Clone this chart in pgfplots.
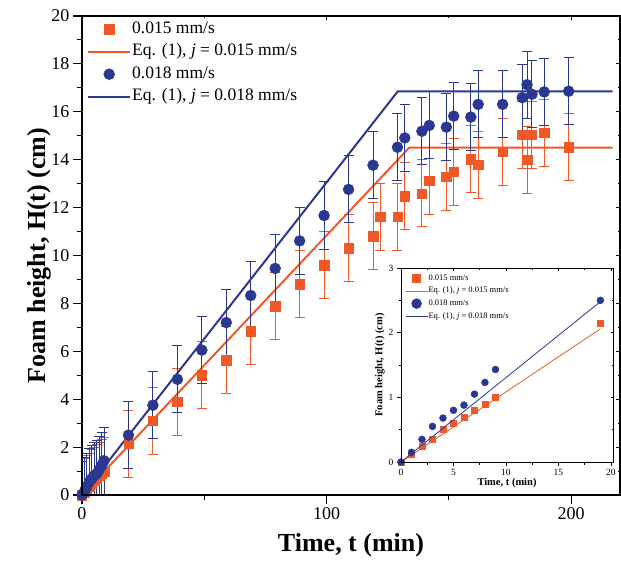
\documentclass[border=0pt]{standalone}
\usepackage{fontspec}
\setmainfont{Liberation Serif}
\usepackage{pgfplots}
\usepackage{pgfplotstable}
\pgfplotsset{compat=1.18}

\definecolor{fred}{RGB}{240,88,40}
\definecolor{fblue}{RGB}{42,56,146}

% t (min), H (cm), error (cm)
\pgfplotstableread{
t h e
0 0 1.4
1 0.12 1.4
2 0.25 1.4
3 0.35 1.4
4 0.50 1.4
5 0.60 1.4
6 0.70 1.4
7 0.80 1.4
8 0.90 1.4
9 1.00 1.4
19 2.13 1.4
29 3.10 1.4
39 3.90 1.4
49 5.00 1.4
59 5.63 1.4
69 6.84 1.4
79 7.88 1.4
89 8.80 1.4
99 9.59 1.4
109 10.30 1.4
119 10.80 1.4
122 11.61 1.4
129 11.61 1.4
132 12.48 1.4
139 12.59 1.4
142 13.12 1.4
149 13.29 1.4
152 13.49 1.4
159 14.02 1.4
162 13.78 1.4
172 14.33 1.4
180 15.05 1.4
182 14.00 1.4
184 15.05 1.4
189 15.12 1.4
199 14.52 1.4
}\redmain

\pgfplotstableread{
t h e
0 0 1.4
1 0.15 1.4
2 0.35 1.4
3 0.55 1.4
4 0.68 1.4
5 0.80 1.4
6 0.88 1.4
7 1.05 1.4
8 1.23 1.4
9 1.43 1.4
19 2.50 1.4
29 3.75 1.4
39 4.83 1.4
49 6.05 1.4
59 7.20 1.4
69 8.33 1.4
79 9.46 1.4
89 10.61 1.4
99 11.67 1.4
109 12.76 1.4
119 13.77 1.4
129 14.52 1.4
132 14.91 1.4
139 15.19 1.4
142 15.43 1.4
149 15.36 1.4
152 15.82 1.4
159 15.78 1.4
162 16.31 1.4
172 16.31 1.4
180 16.59 1.4
182 17.13 1.4
184 16.73 1.4
189 16.83 1.4
199 16.86 1.4
}\bluemain

\pgfplotstableread{
t h
0 0
1 0.12
2 0.25
3 0.35
4 0.50
5 0.60
6 0.70
7 0.80
8 0.90
9 1.00
19 2.15
}\redinset

\pgfplotstableread{
t h
0 0
1 0.15
2 0.35
3 0.55
4 0.68
5 0.80
6 0.88
7 1.05
8 1.23
9 1.43
19 2.50
}\blueinset

\begin{document}
\begin{tikzpicture}
\begin{axis}[
    name=main,
    at={(0pt,0pt)}, anchor=south west,
    scale only axis,
    width=538pt, height=479pt,
    xmin=0, xmax=220,
    ymin=0, ymax=20,
    xtick={0,100,200},
    minor x tick num=1,
    ytick={0,2,...,20},
    minor y tick num=1,
    xtick pos=left, ytick pos=left,
    tick align=outside,
    major tick length=9pt, minor tick length=5pt,
    every tick/.style={black, line width=1.1pt},
    axis line style={line width=1.2pt},
    /pgf/number format/assume math mode=true,
    ticklabel style={font=\fontsize{18}{18}\selectfont},
    xlabel={\textbf{Time, t (min)}},
    ylabel={\textbf{Foam height, H(t) (cm)}},
    label style={font=\fontsize{26}{26}\selectfont},
    x label style={at={(axis description cs:0.5,-0.104)}, anchor=center},
    y label style={at={(axis description cs:-0.08,0.5)}, anchor=center},
    legend image code/.code={\draw[mark repeat=2,mark phase=2] plot coordinates {(0pt,0pt) (21pt,0pt) (42pt,0pt)};},
    legend cell align=left,
    legend style={at={(axis description cs:0,1)}, anchor=north west,
        xshift=2pt, yshift=-2pt,
        draw=none, fill=none,
        font=\fontsize{17.5}{21}\selectfont,
        row sep=4.5pt,
        nodes={text height=12pt, text depth=4pt, inner sep=1pt}},
]
\addplot[only marks, mark=square*, color=fred, mark size=4.7pt,
    error bars/.cd, y dir=both, y explicit,
    error bar style={line width=1pt, fred},
    error mark options={rotate=90, mark size=5pt, line width=1pt, fred}]
    table[x=t, y=h, y error=e] {\redmain};
\addlegendentry{0.015 mm/s}
\addplot[fred, line width=2pt, no marks] coordinates {(0,0) (133.8,14.5) (217,14.5)};
\addlegendentry{Eq. (1), \textit{j} = 0.015 mm/s}
\addplot[only marks, mark=*, color=fblue, mark size=5.5pt,
    error bars/.cd, y dir=both, y explicit,
    error bar style={line width=1pt, fblue},
    error mark options={rotate=90, mark size=5pt, line width=1pt, fblue}]
    table[x=t, y=h, y error=e] {\bluemain};
\addlegendentry{0.018 mm/s}
\addplot[fblue, line width=2pt, no marks] coordinates {(0,0) (129.1,16.85) (217,16.85)};
\addlegendentry{Eq. (1), \textit{j} = 0.018 mm/s}
\end{axis}
% short inward ticks on top and right
\begin{axis}[
    at={(0pt,0pt)}, anchor=south west,
    scale only axis,
    width=538pt, height=479pt,
    xmin=0, xmax=220, ymin=0, ymax=20,
    xtick={0,100,200}, minor x tick num=1,
    ytick={0,2,...,20}, minor y tick num=1,
    xtick pos=right, ytick pos=right,
    tick align=inside,
    major tick length=4pt, minor tick length=2.5pt,
    every tick/.style={black, line width=1pt},
    xticklabels={}, yticklabels={},
    axis line style={line width=1.2pt},
]
\end{axis}

\begin{axis}[
    at={(319pt,33pt)}, anchor=south west,
    scale only axis,
    width=212pt, height=194pt,
    xmin=0, xmax=20.2,
    ymin=0, ymax=3,
    xtick={0,5,...,20}, minor x tick num=1,
    ytick={0,1,2,3}, minor y tick num=1,
    tick align=outside,
    xtick pos=left, ytick pos=left,
    major tick length=4pt, minor tick length=2.5pt,
    every tick/.style={black, line width=0.8pt},
    axis line style={line width=0.9pt},
    axis background/.style={fill=white},
    clip mode=individual,
    /pgf/number format/assume math mode=true,
    ticklabel style={font=\fontsize{9.5}{9.5}\selectfont},
    xlabel={\textbf{Time, t (min)}},
    ylabel={\textbf{Foam height, H(t) (cm)}},
    label style={font=\fontsize{10.5}{10.5}\selectfont},
    x label style={at={(axis description cs:0.5,-0.108)}, anchor=center},
    y label style={at={(axis description cs:-0.099,0.5)}, anchor=center},
    legend image code/.code={\draw[mark repeat=2,mark phase=2] plot coordinates {(0pt,0pt) (11pt,0pt) (22pt,0pt)};},
    legend cell align=left,
    legend style={at={(axis description cs:0,1)}, anchor=north west,
        xshift=1pt, yshift=-3pt,
        draw=none, fill=none,
        font=\fontsize{8.5}{10}\selectfont,
        row sep=2.7pt,
        nodes={text height=6.5pt, text depth=2.5pt, inner sep=0.5pt}},
]
\addplot[only marks, mark=square*, color=fred, mark size=3pt,
    legend image post style={mark size=4pt}] table[x=t, y=h] {\redinset};
\addlegendentry{0.015 mm/s}
\addplot[fred, line width=0.8pt, no marks] coordinates {(0,0) (19,2.06)};
\addlegendentry{Eq. (1), \textit{j} = 0.015 mm/s}
\addplot[only marks, mark=*, color=fblue, mark size=3.5pt,
    legend image post style={mark size=5pt}] table[x=t, y=h] {\blueinset};
\addlegendentry{0.018 mm/s}
\addplot[fblue, line width=0.8pt, no marks] coordinates {(0,0) (19,2.48)};
\addlegendentry{Eq. (1), \textit{j} = 0.018 mm/s}
\end{axis}
\begin{axis}[
    at={(319pt,33pt)}, anchor=south west,
    scale only axis,
    width=212pt, height=194pt,
    xmin=0, xmax=20.2, ymin=0, ymax=3,
    xtick={0,5,...,20}, minor x tick num=1,
    ytick={0,1,2,3}, minor y tick num=1,
    xtick pos=right, ytick pos=right,
    tick align=inside,
    major tick length=2.5pt, minor tick length=1.5pt,
    every tick/.style={black, line width=0.7pt},
    xticklabels={}, yticklabels={},
    axis line style={line width=0.9pt},
]
\end{axis}
\pgfresetboundingbox
\path[use as bounding box] (-82pt,-75pt) rectangle (539pt,495pt);
\end{tikzpicture}
\end{document}
